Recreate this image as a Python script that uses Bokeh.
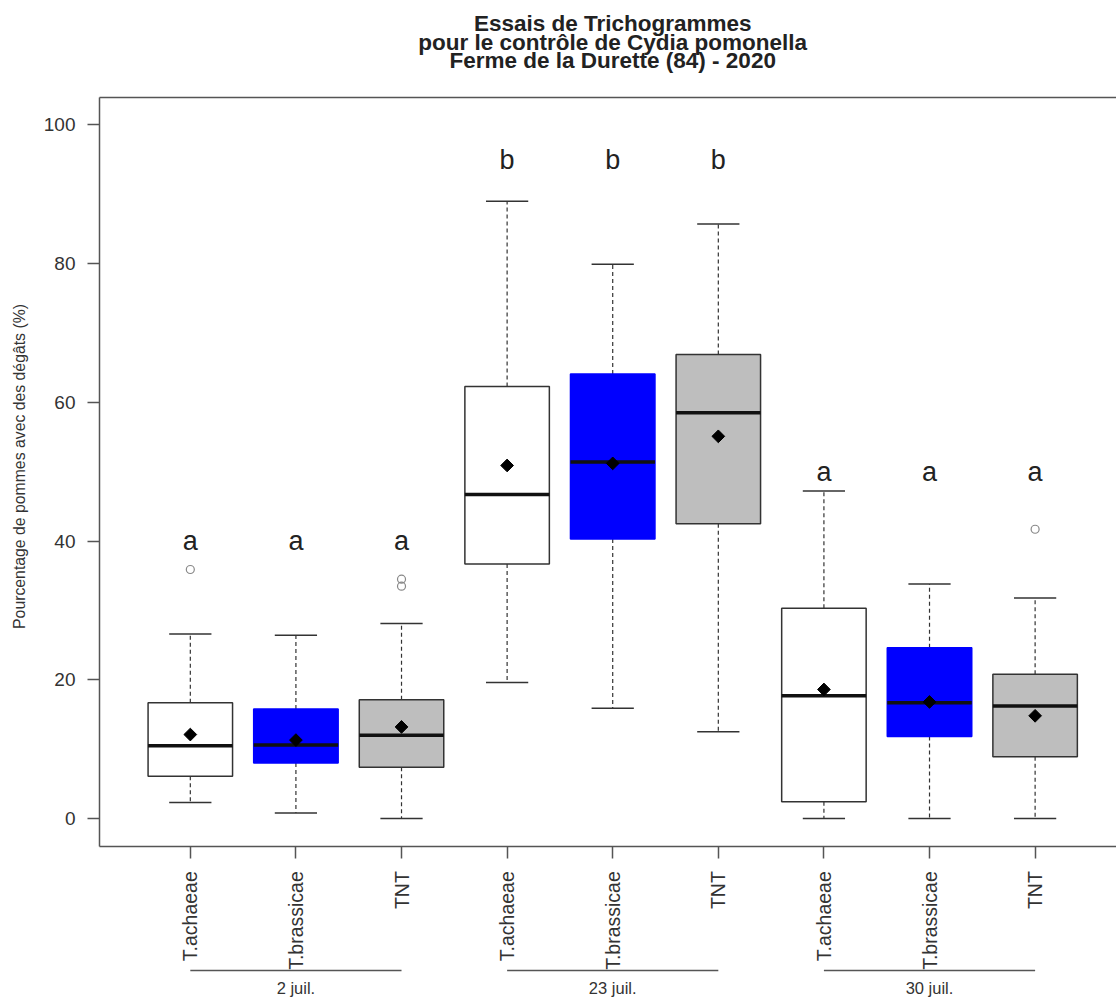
import math
from bokeh.plotting import figure
from bokeh.models import Range1d, FixedTicker, LinearAxis, ColumnDataSource
from bokeh.core.properties import value
from bokeh.embed import file_html
from bokeh.resources import INLINE

# ---------------- data ----------------
dates = ["2 juil.", "23 juil.", "30 juil."]
treatments = ["T.achaeae", "T.brassicae", "TNT"]
box_fill = ["white", "#0000FF", "#BEBEBE"]
box_edge = ["#333333", "#0000FF", "#333333"]

whisker_high = [26.6, 26.4, 28.1, 89.0, 79.9, 85.7, 47.2, 33.8, 31.8]
q3 = [16.7, 15.8, 17.1, 62.3, 64.1, 66.9, 30.3, 24.6, 20.8]
median = [10.5, 10.6, 12.0, 46.7, 51.4, 58.5, 17.7, 16.7, 16.2]
mean = [12.1, 11.3, 13.2, 50.9, 51.2, 55.1, 18.6, 16.8, 14.8]
q1 = [6.1, 8.0, 7.4, 36.7, 40.3, 42.5, 2.4, 11.8, 8.9]
whisker_low = [2.3, 0.8, 0.0, 19.6, 15.9, 12.5, 0.0, 0.0, 0.0]

outlier_box = [1, 3, 3, 9]
outlier_val = [35.9, 34.5, 33.5, 41.7]

letters = ["a", "a", "a", "b", "b", "b", "a", "a", "a"]
letter_y = [40, 40, 40, 95, 95, 95, 50, 50, 50]

y_ticks = [0, 20, 40, 60, 80, 100]
title_lines = ["Essais de Trichogrammes",
               "pour le contr\u00f4le de Cydia pomonella",
               "Ferme de la Durette (84) - 2020"]
y_label = "Pourcentage de pommes avec des d\u00e9g\u00e2ts (%)"

# ---------------- layout helpers ----------------
W, H = 1116, 1000
BOX_L = 99                        # left edge of the R plot box (px)
BOX_TOP, BOX_BOT = 96.7, 845.7    # R plot box (px from top)
Y0, Y1 = -4.0, 104.0              # R data limits of the box
X0 = 0.14                         # R data x limit at the left of the box
PX = (BOX_BOT - BOX_TOP) / (Y1 - Y0)
XPX = 105.6
y_lo = Y0 - (H - BOX_BOT) / PX
y_hi = Y1 + BOX_TOP / PX
x_lo = X0 - BOX_L / XPX
x_hi = X0 + (W - BOX_L) / XPX

def y_at(px_from_top):
    return Y1 + (BOX_TOP - px_from_top) / PX

def x_at(px_from_left):
    return X0 + (px_from_left - BOX_L) / XPX

# ---------------- derived ----------------
n_t = len(treatments)
pos = list(range(1, len(dates) * n_t + 1))
tick_labels = {p_: treatments[(p_ - 1) % n_t] for p_ in pos}
fills = [box_fill[i % n_t] for i in range(len(pos))]
edges = [box_edge[i % n_t] for i in range(len(pos))]
half_box = 0.4
half_cap = 0.2

src = ColumnDataSource(dict(
    x=pos,
    left=[x - half_box for x in pos], right=[x + half_box for x in pos],
    cl=[x - half_cap for x in pos], cr=[x + half_cap for x in pos],
    hi=whisker_high, q3=q3, med=median, mean=mean, q1=q1, lo=whisker_low,
    fill=fills, edge=edges, letter=letters, ly=letter_y,
))

FONT = "Liberation Sans"
p = figure(width=W, height=H,
           x_range=Range1d(x_lo, x_hi), y_range=Range1d(y_lo, y_hi),
           output_backend="svg", toolbar_location=None,
           min_border_left=0, min_border_right=0,
           min_border_top=0, min_border_bottom=0)
p.grid.visible = False
p.outline_line_color = None
p.background_fill_color = "white"
p.border_fill_color = "white"

# whiskers
p.segment(x0="x", y0="q3", x1="x", y1="hi", source=src,
          line_color="#333333", line_width=1.2, line_dash="4 3")
p.segment(x0="x", y0="q1", x1="x", y1="lo", source=src,
          line_color="#333333", line_width=1.2, line_dash="4 3")
p.segment(x0="cl", y0="hi", x1="cr", y1="hi", source=src,
          line_color="#333333", line_width=1.5)
p.segment(x0="cl", y0="lo", x1="cr", y1="lo", source=src,
          line_color="#333333", line_width=1.5)
# boxes
p.quad(left="left", right="right", bottom="q1", top="q3", source=src,
       fill_color="fill", line_color="edge", line_width=1.5)
# medians
p.segment(x0="left", y0="med", x1="right", y1="med", source=src,
          line_color="#111111", line_width=3.5)
# means
p.scatter(x="x", y="mean", source=src, marker="square", angle=math.pi / 4,
          size=9, fill_color="black", line_color="black")
# outliers
p.scatter(x=outlier_box, y=outlier_val, marker="circle", size=8,
          fill_color=None, line_color="#888888", line_width=1.2)
# significance letters
p.text(x="x", y="ly", text="letter", source=src, text_align="center",
       text_baseline="middle", text_font=value(FONT), text_font_size="27px",
       text_color="#222222")

# ---------------- axes ----------------
xa = p.xaxis[0]
xa.fixed_location = Y0
xa.ticker = FixedTicker(ticks=pos)
xa.major_label_overrides = tick_labels
xa.major_label_orientation = math.pi / 2
xa.major_tick_out = 12
xa.major_tick_in = 0
xa.minor_tick_line_color = None
xa.axis_line_color = "#555555"
xa.axis_line_width = 1.5
xa.bounds = (X0, x_hi)
xa.major_tick_line_color = "#555555"
xa.major_tick_line_width = 1.5
xa.major_label_text_font = FONT
xa.major_label_text_font_size = "19.5px"
xa.major_label_text_color = "#333333"
xa.major_label_standoff = 13

top = LinearAxis(fixed_location=Y1, ticker=FixedTicker(ticks=[]),
                 bounds=(X0, x_hi),
                 axis_line_color="#555555", axis_line_width=1.5,
                 major_tick_line_color=None, minor_tick_line_color=None,
                 major_label_text_color=None)
p.add_layout(top, "above")

ya = p.yaxis[0]
ya.fixed_location = X0
ya.bounds = (Y0, Y1)
ya.ticker = FixedTicker(ticks=y_ticks)
ya.major_tick_out = 12
ya.major_tick_in = 0
ya.minor_tick_line_color = None
ya.axis_line_color = "#555555"
ya.axis_line_width = 1.5
ya.major_tick_line_color = "#555555"
ya.major_tick_line_width = 1.5
ya.major_label_text_font = FONT
ya.major_label_text_font_size = "19px"
ya.major_label_text_color = "#333333"
ya.major_label_standoff = 12

# y-axis title (placed beside the axis, centred on the 0-100 span)
p.text(x=[x_at(19)], y=[y_at(466)], text=[y_label], angle=math.pi / 2,
       text_align="center", text_baseline="middle", text_font=value(FONT),
       text_font_size="15.8px", text_color="#333333")

# ---------------- title (three lines) ----------------
mid_x = (pos[0] + pos[-1]) / 2
p.text(x=[mid_x] * len(title_lines),
       y=[y_at(23.0), y_at(41.5), y_at(59.8)],
       text=title_lines, text_align="center", text_baseline="middle",
       text_font=value(FONT), text_font_style="bold", text_font_size="22.5px",
       text_color="#222222")

# ---------------- date groups below the axis ----------------
g_x0 = [pos[g * n_t] for g in range(len(dates))]
g_x1 = [pos[g * n_t + n_t - 1] for g in range(len(dates))]
g_line_y = y_at(970)
p.segment(x0=g_x0, y0=[g_line_y] * len(dates), x1=g_x1, y1=[g_line_y] * len(dates),
          line_color="#555555", line_width=1.5)
p.text(x=[(a + b) / 2 for a, b in zip(g_x0, g_x1)], y=[y_at(987)] * len(dates),
       text=dates, text_align="center", text_baseline="middle",
       text_font=value(FONT), text_font_size="16.5px", text_color="#333333")

open("out.html", "w").write(file_html(p, INLINE))
